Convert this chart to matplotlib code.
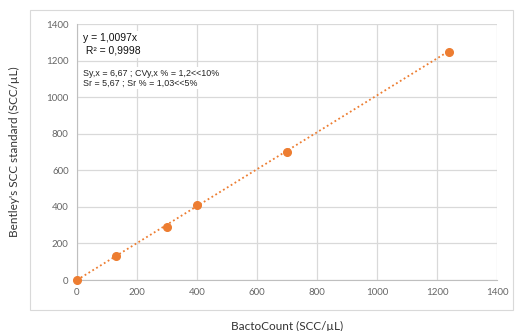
import matplotlib.pyplot as plt
from matplotlib.patches import Rectangle

# BactoCount vs Bentley's SCC standard
bacto = [0, 130, 300, 400, 700, 1240]
bentley = [0, 130, 290, 410, 700, 1245]
slope = 1.0097
ticks = [0, 200, 400, 600, 800, 1000, 1200, 1400]

orange = '#ED7D31'
plt.rcParams['font.family'] = ['Lato', 'DejaVu Sans']

fig = plt.figure(figsize=(5.15, 3.31), dpi=100)
# outer chart border
fig.patches.append(Rectangle((30 / 515, 21 / 331), 483 / 515, 300 / 331,
                             transform=fig.transFigure, fill=False,
                             edgecolor='#d9d9d9', linewidth=0.8))
ax = fig.add_axes([77 / 515, 51 / 331, 420 / 515, 256 / 331])

# trendline
xs = [0, max(bacto)]
ax.plot(xs, [slope * v for v in xs], linestyle=(0, (1, 1.5)), color=orange,
        linewidth=1.3)
ax.plot(bacto, bentley, 'o', color=orange, markersize=5.5, clip_on=False, zorder=5)

ax.set_xlim(0, 1400)
ax.set_ylim(0, 1400)
ax.set_xticks(ticks)
ax.set_yticks(ticks)
ax.grid(True, color='#d9d9d9', linewidth=0.9)
ax.set_axisbelow(True)
for s in ['top', 'right']:
    ax.spines[s].set_visible(False)
for s in ['left', 'bottom']:
    ax.spines[s].set_color('#bfbfbf')
ax.tick_params(length=0, labelsize=7, labelcolor='#666666', pad=6)

ax.set_xlabel('BactoCount (SCC/µL)', fontsize=8.5, color='#333333', labelpad=17)
ax.set_ylabel("Bentley's SCC standard (SCC/µL)", fontsize=8.5, color='#333333',
              labelpad=19)

ax.text(0.015, 0.965, 'y = 1,0097x\n R² = 0,9998', transform=ax.transAxes,
        fontsize=7.5, family=['Liberation Sans', 'DejaVu Sans'], va='top',
        linespacing=1.35, color='#111111',
        bbox=dict(facecolor='white', edgecolor='none', pad=1.5))
ax.text(0.015, 0.825, 'Sy,x = 6,67 ; CVy,x % = 1,2<<10%\nSr = 5,67 ; Sr % = 1,03<<5%',
        transform=ax.transAxes, fontsize=6.4,
        family=['Liberation Sans', 'DejaVu Sans'], va='top', linespacing=1.15,
        color='#222222', bbox=dict(facecolor='white', edgecolor='none', pad=1))

fig.savefig('out.png', dpi=100)
